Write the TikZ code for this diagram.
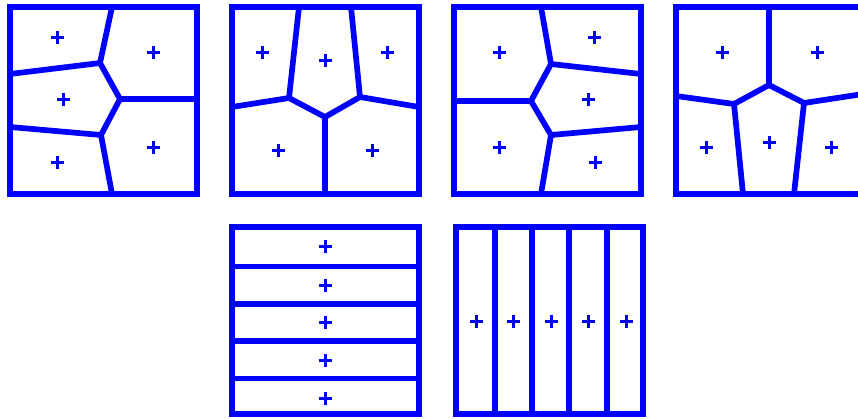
\documentclass[tikz,border=0pt]{standalone}
\usepackage{tikz}
\definecolor{Cell}{HTML}{0000FF}
\tikzset{
  wall/.style={line width=5.7pt,Cell,line join=miter},
  site/.style={line width=3pt,Cell}
}

\begin{document}
\begin{tikzpicture}[x=1pt,y=-1pt]
  \useasboundingbox (0,0) rectangle (858,419);
  \clip (0,0) rectangle (858,419);
  % frames of the six partitions
  \foreach \x/\y in {10/7,232/7,454/7,676/7,232/227,456/227}{\draw[wall] (\x,\y) rectangle ++(187,187);}
  % first: vertex on the right
  \draw[wall] (112,7)--(100,63)--(10,74);
  \draw[wall] (100,63)--(120,99)--(197,99);
  \draw[wall] (120,99)--(101,135)--(10,127);
  \draw[wall] (101,135)--(112,194);
  % second: three cells on top
  \draw[wall] (299,7)--(289,98)--(232,107);
  \draw[wall] (351,7)--(360,97)--(419,107);
  \draw[wall] (289,98)--(325,117)--(360,97);
  \draw[wall] (325,117)--(325,194);
  % third: vertex on the left
  \draw[wall] (541,7)--(551,64)--(641,74);
  \draw[wall] (551,64)--(531,101)--(454,101);
  \draw[wall] (531,101)--(551,135)--(641,127);
  \draw[wall] (551,135)--(541,194);
  % fourth: three cells at the bottom
  \draw[wall] (769,7)--(769,85)--(734,104)--(676,96);
  \draw[wall] (769,85)--(804,103)--(863,94);
  \draw[wall] (734,104)--(743,194);
  \draw[wall] (804,103)--(794,194);
  % stripes
  \foreach \y in {266.5,304,341,378.5}{\draw[wall] (232,\y)--(419,\y);}
  \foreach \x in {495,532,569,607}{\draw[wall] (\x,227)--(\x,414);}
  % sites
  \foreach \x/\y in {57/38,153/53,63/100,57/163,153/148,
                     262/53,325/61,387/53,278/151,372/151,
                     499/53,594/38,588/100,499/148,595/163,
                     722/53,817/53,706/148,769/143,831/148,
                     325/247,325/285,325/322,325/360,325/398,
                     476/321,513/321,551/321,588/321,626/321}{
    \draw[site] (\x-6.5,\y)--(\x+6.5,\y) (\x,\y-6.5)--(\x,\y+6.5);
  }
\end{tikzpicture}
\end{document}
